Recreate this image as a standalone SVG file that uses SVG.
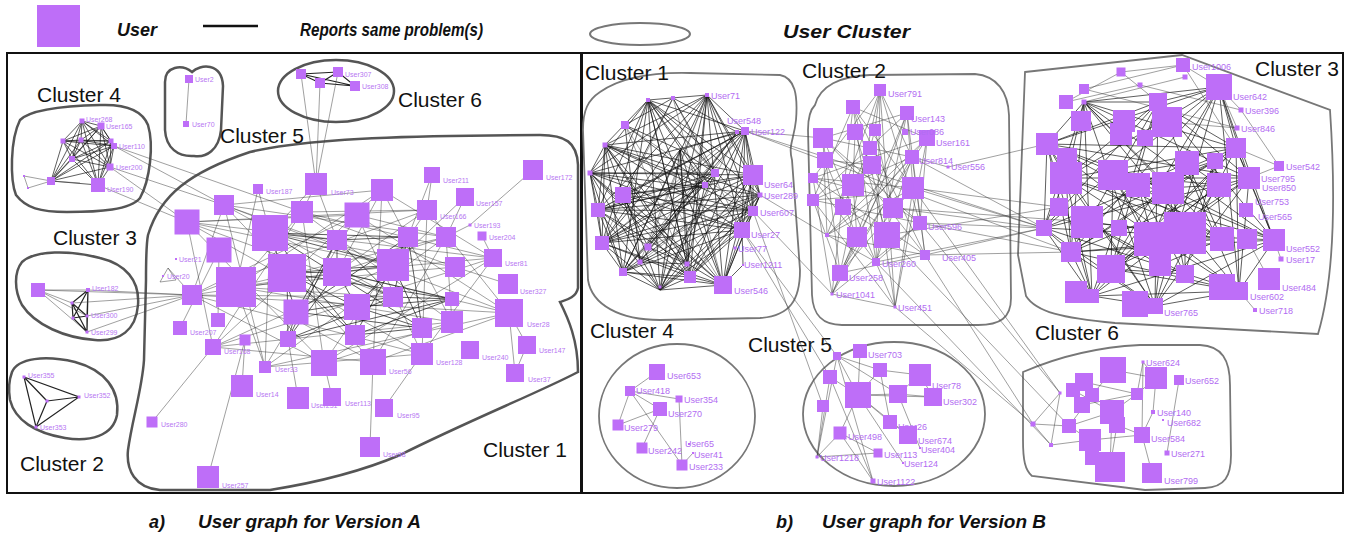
<svg xmlns="http://www.w3.org/2000/svg" width="1350" height="537" viewBox="0 0 1350 537">
<style>
.lg{font-family:"Liberation Sans",Arial,sans-serif;font-weight:bold;font-style:italic;font-size:18px;fill:#111}
.c{font-family:"Liberation Sans",Arial,sans-serif;font-size:21px;fill:#111}
.la{font-family:"Liberation Sans",Arial,sans-serif;font-size:7px;fill:#b777f2}
.lb{font-family:"Liberation Sans",Arial,sans-serif;font-size:9px;fill:#b26cf2}
.n{fill:#be6ef8}
.ol{fill:none;stroke:#555;stroke-width:2.5}
.or{fill:none;stroke:#777;stroke-width:1.8}
.e{fill:none;stroke:#444;stroke-width:0.6;stroke-opacity:0.85}
.m{fill:none;stroke:#2a2a2a;stroke-width:0.55;stroke-opacity:0.8}
.mk{fill:none;stroke:#111;stroke-width:0.75;stroke-opacity:0.9}
.d{fill:none;stroke:#222;stroke-width:1.2}
</style>
<defs>
<rect id="q" class="n" x="-0.5" y="-0.5" width="1" height="1"/>
</defs>
<rect width="1350" height="537" fill="#fff"/>

<!-- legend -->
<g id="legend">
<rect x="37" y="5" width="43" height="42" fill="#be6ef8"/>
<text class="lg" x="117" y="36" textLength="40" lengthAdjust="spacingAndGlyphs">User</text>
<line x1="203" y1="26" x2="258" y2="26" stroke="#111" stroke-width="2.5"/>
<text class="lg" x="300" y="36" textLength="183" lengthAdjust="spacingAndGlyphs">Reports same problem(s)</text>
<ellipse cx="640" cy="34" rx="50" ry="11" fill="none" stroke="#777" stroke-width="2"/>
<text class="lg" x="783" y="38" textLength="127" lengthAdjust="spacingAndGlyphs">User Cluster</text>
</g>

<!-- panel frames -->
<rect x="7" y="53" width="575" height="440" fill="none" stroke="#111" stroke-width="2"/>
<rect x="581" y="53" width="762" height="440" fill="none" stroke="#111" stroke-width="2"/>

<!-- captions -->
<text class="lg" x="149" y="528">a)</text>
<text class="lg" x="198" y="528" textLength="223" lengthAdjust="spacingAndGlyphs">User graph for Version A</text>
<text class="lg" x="776" y="528">b)</text>
<text class="lg" x="822" y="528" textLength="224" lengthAdjust="spacingAndGlyphs">User graph for Version B</text>

<!-- cluster outlines, version A -->
<g id="a-clusters">
<path class="ol" d="M20,120 C30,110 60,106 100,105 C125,104 142,110 148,125 C154,145 150,180 140,198 C130,210 100,212 67,212 C40,212 26,208 16,195 C10,180 10,140 20,120 Z"/>
<path class="ol" d="M165,82 C165,66 182,64 192,72 C200,64 222,62 223,86 L221,130 C219,150 206,158 194,156 C178,157 166,148 165,130 Z"/>
<ellipse class="ol" cx="336" cy="91" rx="58" ry="31"/>
<path class="ol" d="M148,235 C160,195 190,172 250,152 C300,140 380,137 450,136 L540,135 C565,135 577,142 578,165 L578,288 C576,298 566,300 560,302 C568,318 578,340 578,372 C540,392 470,420 400,455 C360,472 320,482 270,490 L160,490 C135,488 126,470 128,450 C132,420 142,390 144,360 L146,280 C146,260 146,245 148,235 Z"/>
<path class="ol" d="M22,262 C35,250 70,250 100,258 C125,264 140,280 138,305 C136,330 120,342 95,340 C65,338 35,325 22,305 C14,290 14,272 22,262 Z"/>
<path class="ol" d="M12,372 C18,358 45,355 75,362 C105,370 120,390 117,415 C113,436 90,442 65,438 C35,433 15,420 10,400 C8,388 9,380 12,372 Z"/>
<text class="c" x="37" y="102">Cluster 4</text>
<text class="c" x="220" y="143">Cluster 5</text>
<text class="c" x="398" y="107">Cluster 6</text>
<text class="c" x="53" y="245">Cluster 3</text>
<text class="c" x="20" y="471">Cluster 2</text>
<text class="c" x="483" y="457">Cluster 1</text>
</g>

<!-- cluster outlines, version B -->
<g id="b-clusters">
<path class="or" d="M600,92 C620,78 650,72 690,73 L780,75 C795,78 798,95 796,120 C794,140 788,145 792,160 L800,270 C800,300 790,316 760,318 L660,320 C620,320 592,305 588,280 L583,130 C583,110 588,100 600,92 Z"/>
<path class="or" d="M815,105 C820,86 840,76 870,75 L975,74 C997,76 1008,92 1009,115 L1011,298 C1011,318 1000,325 978,325 L842,325 C822,325 813,315 812,295 L808,130 C808,118 810,110 815,105 Z"/>
<path class="or" d="M1025,72 L1182,55 L1330,110 C1336,200 1334,280 1318,334 L1115,323 C1062,318 1036,312 1026,296 L1018,255 Z"/>
<ellipse class="or" cx="677" cy="416" rx="78" ry="72"/>
<ellipse class="or" cx="894" cy="414" rx="91" ry="72"/>
<path class="or" d="M1023,372 C1060,356 1100,347 1140,345 L1200,345 C1222,346 1230,360 1230,385 L1231,455 C1231,476 1225,487 1205,488 L1145,490 L1032,476 C1025,470 1023,460 1023,440 Z"/>
<text class="c" x="585" y="80">Cluster 1</text>
<text class="c" x="802" y="78">Cluster 2</text>
<text class="c" x="1255" y="76">Cluster 3</text>
<text class="c" x="590" y="338">Cluster 4</text>
<text class="c" x="748" y="352">Cluster 5</text>
<text class="c" x="1035" y="340">Cluster 6</text>
</g>

<!-- connectors -->
<g id="connectors">
<!-- version A -->
<path class="mk" d="M82 121L101 126L111 141L114 146L110 167L98 185L51 181L72 159L63 141L81 140Z M82 121L111 141L110 167L51 181L63 141Z M101 126L114 146L98 185L72 159L81 140Z M82 121L114 146L51 181L81 140L111 141L98 185L63 141L101 126L110 167L72 159Z M82 121L110 167L63 141L111 141L51 181Z M101 126L98 185L81 140L114 146L72 159Z M82 121L98 185M101 126L51 181M111 141L72 159M114 146L63 141M110 167L81 140"/>
<path class="e" d="M51 181L24 176M51 181L28 188M24 176L28 188M51 181L80 183"/>
<path class="d" d="M88 290L72 303L73 318L87 332L87 316Z M88 290L73 318M88 290L87 332M88 290L87 316M72 303L87 316M72 303L87 332M73 318L87 316"/>
<path class="e" d="M38 290L88 290M38 290L72 303M38 290L87 316M38 290L87 332"/>
<path class="d" d="M24 377L79 397L36 427Z M24 377L47 401M79 397L47 401M36 427L47 401"/>
<path class="d" d="M301 74L338 72L355 86L320 83Z M301 74L355 86M338 72L320 83"/>
<path class="e" d="M189 79L186 124"/>
<path class="e" d="M114 146L224 205M110 167L187 222M98 185L187 222M114 146L302 212M110 167L224 205M38 290L192 295M88 290L192 295M87 316L192 295M87 332L192 295M72 303L192 295M301 74L316 184M320 83L316 184M338 72L316 184M533 170L470 225M160 282L168 268L176 280L160 282M168 268L192 295"/>
<path class="m" d="M187 222L357 215L446 237L452 322L324 363L192 295L224 205L382 190L493 258L422 354L265 367L236 287L302 212L427 210L509 313L373 362L213 347Z"/>
<path class="m" d="M187 222L427 210L422 354L192 295L357 215L509 313L265 367L224 205L446 237L373 362L236 287L382 190L452 322L213 347L302 212L493 258L324 363Z"/>
<path class="m" d="M187 222L493 258L213 347L382 190L373 362L224 205L509 313L192 295L427 210L324 363L302 212L452 322L236 287L446 237L265 367L357 215L422 354Z"/>
<path class="mk" d="M270 233L337 240L337 272L357 307L422 328L296 312L288 339L287 273L393 265L408 237L393 297L452 299L355 335Z M270 233L393 265L357 307L452 299L288 339L337 240L408 237L422 328L355 335L287 273L337 272L393 297L296 312Z M270 233L408 237L296 312L337 240L393 297L288 339L337 272L452 299L287 273L357 307L355 335L393 265L422 328Z"/>
<path class="m" d="M393 265L187 222M393 265L224 205M393 265L213 347M393 265L192 295M393 265L236 287M337 272L382 190M337 272L427 210M337 272L446 237M337 272L493 258M337 272L509 313M393 297L187 222M393 297L192 295M393 297L236 287M393 297L224 205M455 267L302 212M455 267L270 233M455 267L236 287M455 267L508 284M482 236L493 258M470 225L446 237"/>
<path class="e" d="M258 189L236 287M258 189L270 233M316 184L302 212M316 184L337 240M316 184L270 233M432 175L427 210M432 175L408 237M465 197L446 237M465 197L393 265M152 422L213 347M208 477L245 340M370 447L373 362M384 408L422 354M298 398L288 339M332 397L324 363M242 386L245 340M265 367L270 233M515 373L527 345M515 373L509 313M527 345L509 313M180 328L219 250M218 320L219 250"/>

<!-- version B -->
<path class="mk" d="M648 100L707 95L745 131L753 175L760 195L753 211L742 230L723 285L690 277L660 290L623 272L602 243L598 210L590 173L605 145Z"/>
<path class="mk" d="M648 100L745 131L760 195L742 230L690 277L623 272L598 210L605 145L707 95L753 175L753 211L723 285L660 290L602 243L590 173Z"/>
<path class="mk" d="M648 100L753 175L742 230L660 290L598 210Z M707 95L760 195L723 285L623 272L590 173Z M745 131L753 211L690 277L602 243L605 145Z"/>
<path class="mk" d="M648 100L760 195L690 277L598 210L707 95L753 211L660 290L590 173L745 131L742 230L623 272L605 145L753 175L723 285L602 243Z"/>
<path class="mk" d="M648 100L753 211L623 272Z M707 95L742 230L602 243Z M745 131L723 285L598 210Z M753 175L690 277L590 173Z M760 195L660 290L605 145Z"/>
<path class="mk" d="M648 100L742 230L598 210L753 175L660 290Z M707 95L723 285L590 173L760 195L623 272Z M745 131L690 277L605 145L753 211L602 243Z"/>
<path class="mk" d="M648 100L723 285L605 145L742 230L590 173L753 211L598 210L760 195L602 243L753 175L623 272L745 131L660 290L707 95L690 277Z"/>
<path class="mk" d="M625 125L705 185L687 264L680 150L715 173L648 247L737 132L673 98L623 195L640 262Z M625 125L673 98L715 173L705 185L623 195L648 247L687 264L640 262L737 132L680 150Z"/>
<path class="mk" d="M715 173L660 290M715 173L623 272M715 173L602 243M715 173L598 210M715 173L590 173M623 195L745 131M623 195L753 175M623 195L753 211M623 195L742 230M623 195L723 285M680 150L723 285M680 150L690 277M680 150L660 290M680 150L623 272M680 150L602 243M687 264L648 100M687 264L707 95M687 264L590 173M687 264L605 145M705 185L648 100M705 185L605 145M705 185L598 210M705 185L602 243M743 265L742 230M743 265L723 285"/>
<path class="m" d="M673 98L742 230M673 98L602 243M673 98L723 285M625 125L753 211M625 125L723 285M625 125L690 277M640 262L707 95M640 262L745 131M640 262L753 175M648 247L707 95M648 247L760 195M737 132L602 243M737 132L623 272M737 132L660 290M715 173L648 100M598 210L745 131"/>

<path class="e" d="M880 90L912 157L925 255L840 273L813 200L853 107L927 138L920 223L876 262L827 235L823 138L907 113L913 188L895 307L832 294L813 178Z"/>
<path class="e" d="M880 90L920 223L832 294L853 107L913 188L840 273L823 138L912 157L876 262L813 178L927 138L895 307L813 200L907 113L925 255L827 235Z"/>
<path class="e" d="M880 90L895 307L823 138L920 223L813 200L912 157L832 294L907 113L876 262L853 107L925 255L813 178L913 188L827 235L927 138L840 273Z"/>
<path class="m" d="M855 132L853 185L857 237L825 160L872 165L893 208L875 130L870 148L843 207L887 235Z M878 195L880 90M878 195L907 113M878 195L927 138M878 195L912 157M878 195L920 223M878 195L925 255M878 195L895 307M878 195L876 262M878 195L840 273M878 195L832 294M878 195L827 235M878 195L813 200M878 195L813 178M878 195L823 138M878 195L853 107M912 157L948 167M875 130L880 90"/>

<path class="mk" d="M1084 102L1158 102L1219 87L1236 148L1249 178L1274 240L1239 291L1155 306L1092 296L1071 252L1044 228L1047 144L1066 178Z"/>
<path class="mk" d="M1084 102L1219 87L1249 178L1239 291L1092 296L1044 228L1066 178L1158 102L1236 148L1274 240L1155 306L1071 252L1047 144Z"/>
<path class="mk" d="M1084 102L1236 148L1239 291L1071 252L1066 178L1219 87L1274 240L1092 296L1047 144L1158 102L1249 178L1155 306L1044 228Z"/>
<path class="mk" d="M1084 102L1249 178L1092 296L1066 178L1236 148L1155 306L1047 144L1219 87L1239 291L1044 228L1158 102L1274 240L1071 252Z"/>
<path class="mk" d="M1084 102L1274 240L1044 228L1219 87L1155 306L1066 178L1249 178L1071 252L1158 102L1239 291L1047 144L1236 148L1092 296Z"/>
<path class="mk" d="M1084 102L1239 291L1066 178L1274 240L1047 144L1249 178L1044 228L1236 148L1071 252L1219 87L1092 296L1158 102L1155 306Z"/>
<path class="mk" d="M1113 175L1168 188L1215 161L1222 239L1151 239L1111 269L1185 274L1138 185L1187 163L1219 185L1185 233L1087 222L1160 265Z M1113 175L1187 163L1222 239L1087 222L1185 274L1168 188L1219 185L1151 239L1160 265L1138 185L1215 161L1185 233L1111 269Z M1113 175L1219 185L1111 269L1168 188L1185 233L1185 274L1215 161L1087 222L1138 185L1222 239L1160 265L1187 163L1151 239Z"/>
<path class="mk" d="M1168 188L1084 102M1168 188L1219 87M1168 188L1274 240M1168 188L1155 306M1168 188L1071 252M1168 188L1047 144M1111 269L1158 102M1111 269L1236 148M1111 269L1249 178M1111 269L1239 291M1222 239L1084 102M1222 239L1047 144M1222 239L1066 178M1222 239L1071 252"/>
<path class="e" d="M1121 72L1066 102M1121 72L1158 102M1121 72L1183 65M1183 65L1084 89M1183 65L1219 87M1183 65L1236 148M1219 87L1241 110M1219 87L1237 128M1241 110L1279 166M1279 166L1249 178M1279 166L1236 148M1140 85L1241 110M1084 89L1237 128M1066 102L1140 85M1084 102L1185 77M1237 128L1167 122M1281 259L1274 240M1255 310L1239 291M1269 279L1247 239"/>

<path class="e" d="M630 391L657 372M630 391L660 409M630 391L618 425M630 391L682 465M630 391L679 399M660 409L618 425M660 409L642 448M679 399L682 465M682 465L693 453"/>

<path class="e" d="M837 356L858 395M837 356L880 370M837 356L898 394M837 356L817 457M837 356L873 481M860 351L858 395M830 377L858 395M830 377L817 457M880 370L858 395M880 370L920 375M858 395L898 394M858 395L933 397M858 395L840 433M858 395L890 422M898 394L920 375M898 394L933 397M858 395L908 435M823 406L817 457M840 433L817 457M840 433L878 453M840 433L873 481M878 453L817 457M890 422L908 435M920 375L933 397M880 370L890 422M858 395L903 463M898 394L920 448M830 377L873 481"/>

<path class="e" d="M1143 362L1156 378M1143 362L1137 394M1143 362L1142 435M1113 370L1156 378M1113 370L1092 395M1156 378L1137 394M1156 378L1153 412M1179 380L1167 453M1137 394L1112 412M1137 394L1082 405M1060 393L1033 424M1033 424L1069 426M1033 424L1051 445M1069 426L1090 440M1069 426L1112 412M1051 445L1090 440M1142 435L1152 473M1153 412L1142 435M1112 412L1110 467M1117 425L1110 467M1092 395L1069 426M1084 382L1137 394M1142 435L1117 425M1090 440L1142 435M1073 390L1112 412M1092 458L1090 440M1060 393L1051 445"/>

<path class="e" d="M745 131L1044 228M745 131L1071 252M745 131L823 138M742 230L837 356M742 230L830 377M753 211L823 406M760 195L827 235M753 211L832 294M913 188L1044 228M893 208L1044 228M920 223L1044 228M925 255L1044 228M887 235L1059 207M913 188L1059 207M948 167L1047 144M920 223L1071 252M876 262L1044 228M925 255L1071 252M912 157L1044 228M893 208L1087 222M925 255L1033 424M920 223L1060 393M895 307L1033 424M876 262L1051 445M887 235L1069 426M913 188L1060 393"/>
</g>

<!-- version A users -->
<g id="a-c4">
<g id="a-u268"><use href="#q" transform="translate(82 121) scale(5)"/><text class="la" x="86" y="122">User268</text></g>
<g id="a-u165"><use href="#q" transform="translate(101 126) scale(7)"/><text class="la" x="106" y="129">User165</text></g>
<g id="a-k2"><use href="#q" transform="translate(111 141) scale(5)"/></g>
<g id="a-u110"><use href="#q" transform="translate(114 146) scale(6)"/><text class="la" x="119" y="149">User110</text></g>
<g id="a-u200"><use href="#q" transform="translate(110 167) scale(7)"/><text class="la" x="116" y="170">User200</text></g>
<g id="a-u190"><use href="#q" transform="translate(98 185) scale(14)"/><text class="la" x="107" y="192">User190</text></g>
<g id="a-k6"><use href="#q" transform="translate(51 181) scale(8)"/></g>
<g id="a-k7"><use href="#q" transform="translate(72 159) scale(6)"/></g>
<g id="a-k8"><use href="#q" transform="translate(63 141) scale(5)"/></g>
<g id="a-k9"><use href="#q" transform="translate(81 140) scale(5)"/></g>
<g id="a-k10"><use href="#q" transform="translate(24 176) scale(2)"/></g>
<g id="a-k11"><use href="#q" transform="translate(28 188) scale(2)"/></g>
</g>
<g id="a-c5">
<g id="a-u2"><use href="#q" transform="translate(189 79) scale(8)"/><text class="la" x="195" y="82">User2</text></g>
<g id="a-u70"><use href="#q" transform="translate(186 124) scale(6)"/><text class="la" x="192" y="127">User70</text></g>
</g>
<g id="a-c6">
<g id="a-s1"><use href="#q" transform="translate(301 74) scale(10)"/></g>
<g id="a-u307"><use href="#q" transform="translate(338 72) scale(10)"/><text class="la" x="345" y="77">User307</text></g>
<g id="a-s3"><use href="#q" transform="translate(320 83) scale(10)"/></g>
<g id="a-u308"><use href="#q" transform="translate(355 86) scale(10)"/><text class="la" x="362" y="89">User308</text></g>
</g>
<g id="a-c3">
<g id="a-t0"><use href="#q" transform="translate(38 290) scale(14)"/></g>
<g id="a-u182"><use href="#q" transform="translate(88 290) scale(4)"/><text class="la" x="92" y="291">User182</text></g>
<g id="a-t2"><use href="#q" transform="translate(72 303) scale(3)"/></g>
<g id="a-u300"><use href="#q" transform="translate(87 316) scale(3)"/><text class="la" x="91" y="318">User300</text></g>
<g id="a-t4"><use href="#q" transform="translate(73 318) scale(3)"/></g>
<g id="a-u299"><use href="#q" transform="translate(87 332) scale(3)"/><text class="la" x="91" y="335">User299</text></g>
</g>
<g id="a-c2">
<g id="a-u355"><use href="#q" transform="translate(24 377) scale(3)"/><text class="la" x="28" y="378">User355</text></g>
<g id="a-u352"><use href="#q" transform="translate(79 397) scale(3)"/><text class="la" x="84" y="398">User352</text></g>
<g id="a-r2"><use href="#q" transform="translate(47 401) scale(3)"/></g>
<g id="a-u353"><use href="#q" transform="translate(36 427) scale(3)"/><text class="la" x="40" y="430">User353</text></g>
</g>
<g id="a-c1">
<g id="a-v1"><use href="#q" transform="translate(187 222) scale(25)"/></g>
<g id="a-v2"><use href="#q" transform="translate(224 205) scale(20)"/></g>
<g id="a-u187"><use href="#q" transform="translate(258 189) scale(10)"/><text class="la" x="266" y="194">User187</text></g>
<g id="a-u73"><use href="#q" transform="translate(316 184) scale(22)"/><text class="la" x="331" y="195">User73</text></g>
<g id="a-v5"><use href="#q" transform="translate(302 212) scale(22)"/></g>
<g id="a-v6"><use href="#q" transform="translate(270 233) scale(36)"/></g>
<g id="a-v7"><use href="#q" transform="translate(219 250) scale(25)"/></g>
<g id="a-v8"><use href="#q" transform="translate(236 287) scale(40)"/></g>
<g id="a-v9"><use href="#q" transform="translate(287 273) scale(38)"/></g>
<g id="a-v10"><use href="#q" transform="translate(337 240) scale(20)"/></g>
<g id="a-v11"><use href="#q" transform="translate(357 215) scale(25)"/></g>
<g id="a-v12"><use href="#q" transform="translate(382 190) scale(22)"/></g>
<g id="a-u211"><use href="#q" transform="translate(432 175) scale(16)"/><text class="la" x="443" y="183">User211</text></g>
<g id="a-u157"><use href="#q" transform="translate(465 197) scale(18)"/><text class="la" x="476" y="206">User157</text></g>
<g id="a-u166"><use href="#q" transform="translate(427 210) scale(20)"/><text class="la" x="440" y="219">User166</text></g>
<g id="a-v16"><use href="#q" transform="translate(408 237) scale(20)"/></g>
<g id="a-v17"><use href="#q" transform="translate(393 265) scale(32)"/></g>
<g id="a-v18"><use href="#q" transform="translate(337 272) scale(28)"/></g>
<g id="a-v19"><use href="#q" transform="translate(446 237) scale(20)"/></g>
<g id="a-u172"><use href="#q" transform="translate(533 170) scale(20)"/><text class="la" x="546" y="180">User172</text></g>
<g id="a-u204"><use href="#q" transform="translate(482 236) scale(9)"/><text class="la" x="489" y="240">User204</text></g>
<g id="a-u193"><use href="#q" transform="translate(470 225) scale(3)"/><text class="la" x="474" y="228">User193</text></g>
<g id="a-u81"><use href="#q" transform="translate(493 258) scale(18)"/><text class="la" x="505" y="266">User81</text></g>
<g id="a-v24"><use href="#q" transform="translate(455 267) scale(20)"/></g>
<g id="a-u327"><use href="#q" transform="translate(508 284) scale(20)"/><text class="la" x="520" y="294">User327</text></g>
<g id="a-v26"><use href="#q" transform="translate(192 295) scale(20)"/></g>
<g id="a-u21"><use href="#q" transform="translate(176 259) scale(2)"/><text class="la" x="179" y="262">User21</text></g>
<g id="a-u20"><use href="#q" transform="translate(163 276) scale(2)"/><text class="la" x="167" y="279">User20</text></g>
<g id="a-u207"><use href="#q" transform="translate(180 328) scale(14)"/><text class="la" x="190" y="335">User207</text></g>
<g id="a-v28"><use href="#q" transform="translate(218 320) scale(14)"/></g>
<g id="a-u168"><use href="#q" transform="translate(213 347) scale(16)"/><text class="la" x="224" y="354">User168</text></g>
<g id="a-v30"><use href="#q" transform="translate(245 340) scale(11)"/></g>
<g id="a-u33"><use href="#q" transform="translate(265 367) scale(12)"/><text class="la" x="275" y="372">User33</text></g>
<g id="a-u14"><use href="#q" transform="translate(242 386) scale(22)"/><text class="la" x="256" y="397">User14</text></g>
<g id="a-v33"><use href="#q" transform="translate(296 312) scale(25)"/></g>
<g id="a-v34"><use href="#q" transform="translate(288 339) scale(16)"/></g>
<g id="a-u231"><use href="#q" transform="translate(298 398) scale(22)"/><text class="la" x="311" y="408">User231</text></g>
<g id="a-v36"><use href="#q" transform="translate(324 363) scale(26)"/></g>
<g id="a-u113"><use href="#q" transform="translate(332 397) scale(18)"/><text class="la" x="345" y="406">User113</text></g>
<g id="a-v38"><use href="#q" transform="translate(357 307) scale(26)"/></g>
<g id="a-v39"><use href="#q" transform="translate(355 335) scale(20)"/></g>
<g id="a-u56"><use href="#q" transform="translate(373 362) scale(26)"/><text class="la" x="389" y="374">User56</text></g>
<g id="a-v41"><use href="#q" transform="translate(393 297) scale(20)"/></g>
<g id="a-u95"><use href="#q" transform="translate(384 408) scale(18)"/><text class="la" x="397" y="418">User95</text></g>
<g id="a-u98"><use href="#q" transform="translate(370 447) scale(20)"/><text class="la" x="383" y="457">User98</text></g>
<g id="a-v44"><use href="#q" transform="translate(422 328) scale(20)"/></g>
<g id="a-u128"><use href="#q" transform="translate(422 354) scale(22)"/><text class="la" x="436" y="365">User128</text></g>
<g id="a-v46"><use href="#q" transform="translate(452 299) scale(14)"/></g>
<g id="a-v47"><use href="#q" transform="translate(452 322) scale(22)"/></g>
<g id="a-u240"><use href="#q" transform="translate(470 350) scale(18)"/><text class="la" x="482" y="360">User240</text></g>
<g id="a-u28"><use href="#q" transform="translate(509 313) scale(28)"/><text class="la" x="527" y="327">User28</text></g>
<g id="a-u147"><use href="#q" transform="translate(527 345) scale(18)"/><text class="la" x="539" y="353">User147</text></g>
<g id="a-u37"><use href="#q" transform="translate(515 373) scale(18)"/><text class="la" x="528" y="382">User37</text></g>
<g id="a-u280"><use href="#q" transform="translate(152 422) scale(11)"/><text class="la" x="161" y="427">User280</text></g>
<g id="a-u257"><use href="#q" transform="translate(208 477) scale(22)"/><text class="la" x="222" y="488">User257</text></g>
</g>

<!-- version B users -->
<g id="b-c1">
<g id="b-w1"><use href="#q" transform="translate(648 100) scale(4)"/></g>
<g id="b-w2"><use href="#q" transform="translate(673 98) scale(4)"/></g>
<g id="b-u71"><use href="#q" transform="translate(707 95) scale(4)"/><text class="lb" x="711" y="99">User71</text></g>
<g id="b-u548"><use href="#q" transform="translate(737 132) scale(4)"/><text class="lb" x="727" y="124">User548</text></g>
<g id="b-u122"><use href="#q" transform="translate(745 131) scale(8)"/><text class="lb" x="751" y="135">User122</text></g>
<g id="b-u64"><use href="#q" transform="translate(753 175) scale(20)"/><text class="lb" x="764" y="188">User64</text></g>
<g id="b-u289"><use href="#q" transform="translate(760 195) scale(5)"/><text class="lb" x="764" y="199">User289</text></g>
<g id="b-u607"><use href="#q" transform="translate(753 211) scale(10)"/><text class="lb" x="760" y="216">User607</text></g>
<g id="b-u27"><use href="#q" transform="translate(742 230) scale(16)"/><text class="lb" x="751" y="238">User27</text></g>
<g id="b-u77"><use href="#q" transform="translate(735 248) scale(3)"/><text class="lb" x="738" y="252">User77</text></g>
<g id="b-u1211"><use href="#q" transform="translate(743 265) scale(2)"/><text class="lb" x="744" y="268">User1211</text></g>
<g id="b-u546"><use href="#q" transform="translate(723 285) scale(18)"/><text class="lb" x="734" y="294">User546</text></g>
<g id="b-w3"><use href="#q" transform="translate(690 277) scale(12)"/></g>
<g id="b-w4"><use href="#q" transform="translate(660 287) scale(3)"/></g>
<g id="b-w5"><use href="#q" transform="translate(623 272) scale(8)"/></g>
<g id="b-w6"><use href="#q" transform="translate(602 243) scale(14)"/></g>
<g id="b-w7"><use href="#q" transform="translate(598 210) scale(14)"/></g>
<g id="b-w8"><use href="#q" transform="translate(623 195) scale(16)"/></g>
<g id="b-w9"><use href="#q" transform="translate(590 173) scale(5)"/></g>
<g id="b-w10"><use href="#q" transform="translate(605 145) scale(5)"/></g>
<g id="b-w11"><use href="#q" transform="translate(625 125) scale(8)"/></g>
<g id="b-w12"><use href="#q" transform="translate(715 173) scale(8)"/></g>
<g id="b-w13"><use href="#q" transform="translate(705 185) scale(6)"/></g>
<g id="b-w14"><use href="#q" transform="translate(648 247) scale(7)"/></g>
<g id="b-w15"><use href="#q" transform="translate(687 264) scale(5)"/></g>
<g id="b-w16"><use href="#q" transform="translate(640 262) scale(5)"/></g>
</g>
<g id="b-c2">
<g id="b-u791"><use href="#q" transform="translate(880 90) scale(12)"/><text class="lb" x="888" y="97">User791</text></g>
<g id="b-x1"><use href="#q" transform="translate(853 107) scale(14)"/></g>
<g id="b-u143"><use href="#q" transform="translate(907 113) scale(14)"/><text class="lb" x="911" y="122">User143</text></g>
<g id="b-u161"><use href="#q" transform="translate(927 138) scale(16)"/><text class="lb" x="936" y="146">User161</text></g>
<g id="b-u086"><use href="#q" transform="translate(905 132) scale(6)"/><text class="lb" x="910" y="135">User086</text></g>
<g id="b-x2"><use href="#q" transform="translate(875 130) scale(12)"/></g>
<g id="b-x3"><use href="#q" transform="translate(855 132) scale(16)"/></g>
<g id="b-x4"><use href="#q" transform="translate(823 138) scale(20)"/></g>
<g id="b-x5"><use href="#q" transform="translate(825 160) scale(16)"/></g>
<g id="b-x6"><use href="#q" transform="translate(870 148) scale(14)"/></g>
<g id="b-x7"><use href="#q" transform="translate(872 165) scale(18)"/></g>
<g id="b-u814"><use href="#q" transform="translate(912 157) scale(14)"/><text class="lb" x="919" y="164">User814</text></g>
<g id="b-u556"><use href="#q" transform="translate(948 167) scale(3)"/><text class="lb" x="951" y="170">User556</text></g>
<g id="b-x8"><use href="#q" transform="translate(813 178) scale(10)"/></g>
<g id="b-x9"><use href="#q" transform="translate(853 185) scale(22)"/></g>
<g id="b-x10"><use href="#q" transform="translate(913 188) scale(22)"/></g>
<g id="b-x11"><use href="#q" transform="translate(813 200) scale(12)"/></g>
<g id="b-x12"><use href="#q" transform="translate(843 207) scale(16)"/></g>
<g id="b-x13"><use href="#q" transform="translate(893 208) scale(20)"/></g>
<g id="b-u596"><use href="#q" transform="translate(920 223) scale(14)"/><text class="lb" x="928" y="230">User596</text></g>
<g id="b-x14"><use href="#q" transform="translate(857 237) scale(20)"/></g>
<g id="b-x15"><use href="#q" transform="translate(887 235) scale(26)"/></g>
<g id="b-x16"><use href="#q" transform="translate(827 235) scale(4)"/></g>
<g id="b-u405"><use href="#q" transform="translate(925 255) scale(10)"/><text class="lb" x="942" y="261">User405</text></g>
<g id="b-u260"><use href="#q" transform="translate(876 262) scale(8)"/><text class="lb" x="882" y="267">User260</text></g>
<g id="b-u258"><use href="#q" transform="translate(840 273) scale(16)"/><text class="lb" x="849" y="281">User258</text></g>
<g id="b-u1041"><use href="#q" transform="translate(832 294) scale(3)"/><text class="lb" x="836" y="298">User1041</text></g>
<g id="b-u451"><use href="#q" transform="translate(895 307) scale(3)"/><text class="lb" x="898" y="311">User451</text></g>
</g>
<g id="b-c3">
<g id="b-u1006"><use href="#q" transform="translate(1183 65) scale(14)"/><text class="lb" x="1192" y="70">User1006</text></g>
<g id="b-y1"><use href="#q" transform="translate(1185 77) scale(5)"/></g>
<g id="b-y2"><use href="#q" transform="translate(1121 72) scale(9)"/></g>
<g id="b-y3"><use href="#q" transform="translate(1084 89) scale(10)"/></g>
<g id="b-y4"><use href="#q" transform="translate(1066 102) scale(14)"/></g>
<g id="b-y5"><use href="#q" transform="translate(1084 102) scale(5)"/></g>
<g id="b-y6"><use href="#q" transform="translate(1140 85) scale(5)"/></g>
<g id="b-u642"><use href="#q" transform="translate(1219 87) scale(26)"/><text class="lb" x="1233" y="100">User642</text></g>
<g id="b-u396"><use href="#q" transform="translate(1241 110) scale(5)"/><text class="lb" x="1245" y="114">User396</text></g>
<g id="b-u846"><use href="#q" transform="translate(1237 128) scale(5)"/><text class="lb" x="1241" y="132">User846</text></g>
<g id="b-y7"><use href="#q" transform="translate(1158 102) scale(18)"/></g>
<g id="b-y8"><use href="#q" transform="translate(1081 121) scale(20)"/></g>
<g id="b-y9"><use href="#q" transform="translate(1124 121) scale(22)"/></g>
<g id="b-y10"><use href="#q" transform="translate(1167 122) scale(30)"/></g>
<g id="b-y11"><use href="#q" transform="translate(1047 144) scale(22)"/></g>
<g id="b-y12"><use href="#q" transform="translate(1121 134) scale(22)"/></g>
<g id="b-y13"><use href="#q" transform="translate(1145 138) scale(16)"/></g>
<g id="b-y14"><use href="#q" transform="translate(1067 158) scale(20)"/></g>
<g id="b-y15"><use href="#q" transform="translate(1236 148) scale(20)"/></g>
<g id="b-u542"><use href="#q" transform="translate(1279 166) scale(10)"/><text class="lb" x="1286" y="170">User542</text></g>
<g id="b-y16"><use href="#q" transform="translate(1066 178) scale(32)"/></g>
<g id="b-y17"><use href="#q" transform="translate(1113 175) scale(30)"/></g>
<g id="b-y18"><use href="#q" transform="translate(1138 185) scale(24)"/></g>
<g id="b-y19"><use href="#q" transform="translate(1168 188) scale(32)"/></g>
<g id="b-y20"><use href="#q" transform="translate(1187 163) scale(24)"/></g>
<g id="b-y21"><use href="#q" transform="translate(1215 161) scale(16)"/></g>
<g id="b-y22"><use href="#q" transform="translate(1219 185) scale(24)"/></g>
<g id="b-u795"><use href="#q" transform="translate(1249 178) scale(22)"/><text class="lb" x="1261" y="182">User795</text></g>
<g id="b-u850"><use href="#q" transform="translate(1259 188) scale(2)"/><text class="lb" x="1262" y="191">User850</text></g>
<g id="b-y23"><use href="#q" transform="translate(1059 207) scale(18)"/></g>
<g id="b-y24"><use href="#q" transform="translate(1087 222) scale(32)"/></g>
<g id="b-y25"><use href="#q" transform="translate(1044 228) scale(16)"/></g>
<g id="b-y26"><use href="#q" transform="translate(1119 228) scale(16)"/></g>
<g id="b-y27"><use href="#q" transform="translate(1151 239) scale(34)"/></g>
<g id="b-y28"><use href="#q" transform="translate(1185 233) scale(42)"/></g>
<g id="b-y29"><use href="#q" transform="translate(1222 239) scale(24)"/></g>
<g id="b-u753"><use href="#q" transform="translate(1246 210) scale(14)"/><text class="lb" x="1255" y="205">User753</text></g>
<g id="b-u565"><use href="#q" transform="translate(1253 216) scale(2)"/><text class="lb" x="1258" y="220">User565</text></g>
<g id="b-y30"><use href="#q" transform="translate(1247 239) scale(20)"/></g>
<g id="b-u552"><use href="#q" transform="translate(1274 240) scale(22)"/><text class="lb" x="1286" y="252">User552</text></g>
<g id="b-y31"><use href="#q" transform="translate(1071 252) scale(20)"/></g>
<g id="b-y32"><use href="#q" transform="translate(1111 269) scale(28)"/></g>
<g id="b-y33"><use href="#q" transform="translate(1160 265) scale(22)"/></g>
<g id="b-y34"><use href="#q" transform="translate(1185 274) scale(18)"/></g>
<g id="b-u17"><use href="#q" transform="translate(1281 259) scale(5)"/><text class="lb" x="1286" y="263">User17</text></g>
<g id="b-u484"><use href="#q" transform="translate(1269 279) scale(22)"/><text class="lb" x="1282" y="291">User484</text></g>
<g id="b-y35"><use href="#q" transform="translate(1076 292) scale(22)"/></g>
<g id="b-y36"><use href="#q" transform="translate(1092 296) scale(14)"/></g>
<g id="b-y37"><use href="#q" transform="translate(1135 304) scale(26)"/></g>
<g id="b-u765"><use href="#q" transform="translate(1155 306) scale(16)"/><text class="lb" x="1164" y="316">User765</text></g>
<g id="b-y38"><use href="#q" transform="translate(1222 287) scale(26)"/></g>
<g id="b-u602"><use href="#q" transform="translate(1239 291) scale(18)"/><text class="lb" x="1250" y="300">User602</text></g>
<g id="b-u718"><use href="#q" transform="translate(1255 310) scale(4)"/><text class="lb" x="1259" y="314">User718</text></g>
</g>
<g id="b-c4">
<g id="b-u653"><use href="#q" transform="translate(657 372) scale(16)"/><text class="lb" x="667" y="379">User653</text></g>
<g id="b-u418"><use href="#q" transform="translate(630 391) scale(10)"/><text class="lb" x="636" y="394">User418</text></g>
<g id="b-u354"><use href="#q" transform="translate(679 399) scale(7)"/><text class="lb" x="684" y="403">User354</text></g>
<g id="b-u270"><use href="#q" transform="translate(660 409) scale(14)"/><text class="lb" x="668" y="417">User270</text></g>
<g id="b-u279"><use href="#q" transform="translate(618 425) scale(11)"/><text class="lb" x="624" y="431">User279</text></g>
<g id="b-u242"><use href="#q" transform="translate(642 448) scale(11)"/><text class="lb" x="648" y="454">User242</text></g>
<g id="b-u65"><use href="#q" transform="translate(689 444) scale(2)"/><text class="lb" x="685" y="447">User65</text></g>
<g id="b-u41"><use href="#q" transform="translate(693 453) scale(2)"/><text class="lb" x="694" y="458">User41</text></g>
<g id="b-u233"><use href="#q" transform="translate(682 465) scale(11)"/><text class="lb" x="689" y="470">User233</text></g>
</g>
<g id="b-c5">
<g id="b-z1"><use href="#q" transform="translate(837 356) scale(8)"/></g>
<g id="b-u703"><use href="#q" transform="translate(860 351) scale(14)"/><text class="lb" x="868" y="358">User703</text></g>
<g id="b-z2"><use href="#q" transform="translate(830 377) scale(14)"/></g>
<g id="b-z3"><use href="#q" transform="translate(880 370) scale(14)"/></g>
<g id="b-u78"><use href="#q" transform="translate(920 375) scale(22)"/><text class="lb" x="932" y="389">User78</text></g>
<g id="b-z4"><use href="#q" transform="translate(858 395) scale(26)"/></g>
<g id="b-z5"><use href="#q" transform="translate(898 394) scale(18)"/></g>
<g id="b-u302"><use href="#q" transform="translate(933 397) scale(18)"/><text class="lb" x="943" y="405">User302</text></g>
<g id="b-z6"><use href="#q" transform="translate(823 406) scale(12)"/></g>
<g id="b-u26"><use href="#q" transform="translate(890 422) scale(14)"/><text class="lb" x="898" y="430">User26</text></g>
<g id="b-u674"><use href="#q" transform="translate(908 435) scale(18)"/><text class="lb" x="918" y="444">User674</text></g>
<g id="b-u404"><use href="#q" transform="translate(920 448) scale(2)"/><text class="lb" x="921" y="453">User404</text></g>
<g id="b-u498"><use href="#q" transform="translate(840 433) scale(13)"/><text class="lb" x="848" y="440">User498</text></g>
<g id="b-u113"><use href="#q" transform="translate(878 453) scale(9)"/><text class="lb" x="884" y="458">User113</text></g>
<g id="b-u124"><use href="#q" transform="translate(903 463) scale(2)"/><text class="lb" x="904" y="467">User124</text></g>
<g id="b-u1218"><use href="#q" transform="translate(817 457) scale(3)"/><text class="lb" x="820" y="461">User1218</text></g>
<g id="b-u1122"><use href="#q" transform="translate(873 481) scale(5)"/><text class="lb" x="877" y="485">User1122</text></g>
</g>
<g id="b-c6">
<g id="b-u624"><use href="#q" transform="translate(1143 362) scale(3)"/><text class="lb" x="1146" y="366">User624</text></g>
<g id="b-f1"><use href="#q" transform="translate(1113 370) scale(26)"/></g>
<g id="b-f2"><use href="#q" transform="translate(1156 378) scale(22)"/></g>
<g id="b-u652"><use href="#q" transform="translate(1179 380) scale(10)"/><text class="lb" x="1185" y="384">User652</text></g>
<g id="b-f3"><use href="#q" transform="translate(1084 382) scale(18)"/></g>
<g id="b-f4"><use href="#q" transform="translate(1073 390) scale(14)"/></g>
<g id="b-f5"><use href="#q" transform="translate(1060 393) scale(3)"/></g>
<g id="b-f6"><use href="#q" transform="translate(1092 395) scale(14)"/></g>
<g id="b-f7"><use href="#q" transform="translate(1137 394) scale(12)"/></g>
<g id="b-f8"><use href="#q" transform="translate(1082 405) scale(16)"/></g>
<g id="b-f9"><use href="#q" transform="translate(1112 412) scale(24)"/></g>
<g id="b-u140"><use href="#q" transform="translate(1153 412) scale(4)"/><text class="lb" x="1157" y="416">User140</text></g>
<g id="b-u682"><use href="#q" transform="translate(1163 420) scale(2)"/><text class="lb" x="1167" y="426">User682</text></g>
<g id="b-f10"><use href="#q" transform="translate(1117 425) scale(16)"/></g>
<g id="b-f11"><use href="#q" transform="translate(1069 426) scale(14)"/></g>
<g id="b-f12"><use href="#q" transform="translate(1033 424) scale(5)"/></g>
<g id="b-u584"><use href="#q" transform="translate(1142 435) scale(16)"/><text class="lb" x="1151" y="442">User584</text></g>
<g id="b-f13"><use href="#q" transform="translate(1090 440) scale(22)"/></g>
<g id="b-f14"><use href="#q" transform="translate(1051 445) scale(4)"/></g>
<g id="b-u271"><use href="#q" transform="translate(1167 453) scale(5)"/><text class="lb" x="1171" y="457">User271</text></g>
<g id="b-f15"><use href="#q" transform="translate(1092 458) scale(14)"/></g>
<g id="b-f16"><use href="#q" transform="translate(1110 467) scale(30)"/></g>
<g id="b-u799"><use href="#q" transform="translate(1152 473) scale(20)"/><text class="lb" x="1164" y="484">User799</text></g>
</g>
</svg>
